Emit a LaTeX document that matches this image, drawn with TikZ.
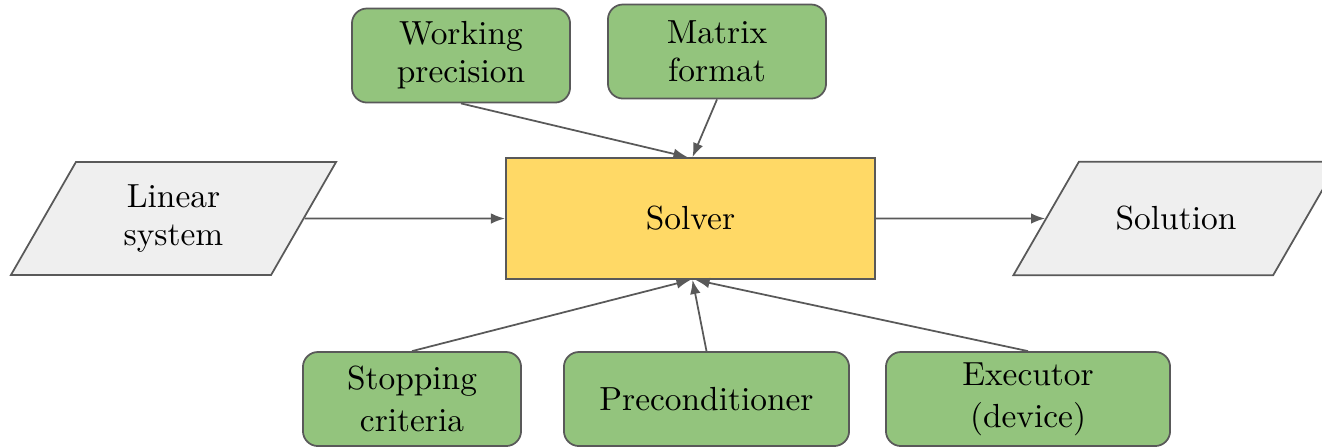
\documentclass[tikz,border=0pt]{standalone}
\usetikzlibrary{arrows.meta,shapes.geometric}

\definecolor{linegray}{HTML}{595959}
\definecolor{paramgreen}{HTML}{93C47D}
\definecolor{solveryellow}{HTML}{FFD966}
\definecolor{iogray}{HTML}{EFEFEF}

\tikzset{
  param/.style={draw=linegray, fill=paramgreen, rounded corners=0.15cm,
    line width=0.5pt, align=center, inner sep=0pt,
    minimum width=2.18cm, minimum height=0.94cm},
  lowparam/.style={param, minimum height=0.94cm,
    font=\fontsize{9.5}{12}\selectfont},
  solverbox/.style={draw=linegray, fill=solveryellow, line width=0.5pt,
    minimum width=3.69cm, minimum height=1.21cm, inner sep=0pt},
  iobox/.style={draw=linegray, fill=iogray, line width=0.5pt, align=center,
    trapezium, trapezium left angle=60, trapezium right angle=120,
    trapezium stretches body=true, minimum width=3.25cm, minimum height=1.13cm,
    inner xsep=0pt},
  flow/.style={draw=linegray, line width=0.5pt, -{Latex[length=4pt,width=3pt]}}
}

\begin{document}
\begin{tikzpicture}[x=0.01cm, y=-0.01cm, font=\fontsize{9.5}{10.8}\selectfont]
  \useasboundingbox (0, 0) rectangle (1322, 447);
  %% centre
  \node[solverbox] (solver) at (690.5, 218.5) {Solver};
  %% input and output
  \node[iobox, inner ysep=0.225cm] (linsys) at (173.5, 218.5) {Linear\\system};
  \node[iobox, inner ysep=0.445cm] (solution) at (1176, 218.5) {Solution};
  %% parameters above
  \node[param] (precision) at (461, 55.5) {Working\\precision};
  \node[param] (format) at (717, 51.5) {Matrix\\format};
  %% parameters below
  \node[lowparam] (stopping) at (412, 399) {Stopping\\criteria};
  \node[lowparam, minimum width=2.85cm] (precond) at (706.5, 399) {Preconditioner};
  \node[lowparam, minimum width=2.84cm] (executor) at (1028, 399) {Executor\\(device)};

  \draw[flow] (linsys.east) -- (solver.west);
  \draw[flow] (solver.east) -- (solution.west);
  \draw[flow] (precision.south) -- ([xshift=-0.03cm]solver.north);
  \draw[flow] (format.south) -- ([xshift=0.02cm]solver.north);
  \draw[flow] (stopping.north) -- (solver.south);
  \draw[flow] (precond.north) -- ([xshift=0.02cm]solver.south);
  \draw[flow] (executor.north) -- ([xshift=0.05cm]solver.south);
\end{tikzpicture}
\end{document}
